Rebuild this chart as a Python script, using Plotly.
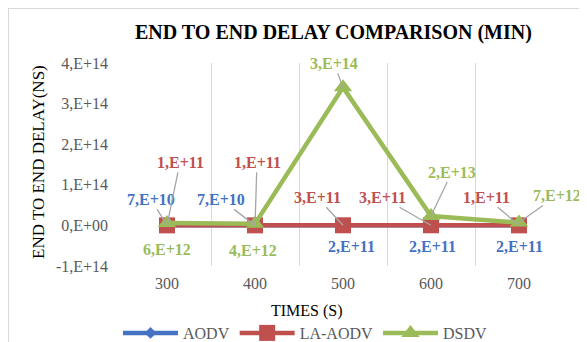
import math
import plotly.graph_objects as go

categories = ["300", "400", "500", "600", "700"]
aodv = [7e10, 7e10, 2e11, 2e11, 2e11]
la_aodv = [1e11, 1e11, 3e11, 3e11, 1e11]
dsdv = [6e12, 4e12, 3.4e14, 2.3e13, 7e12]
y_tickvals = [-1e14, 0, 1e14, 2e14, 3e14, 4e14]
y_ticktext = ["-1,E+14", "0,E+00", "1,E+14", "2,E+14", "3,E+14", "4,E+14"]

FONT = "Liberation Serif"
BLUE = "#4472C4"
RED = "#C0504D"
GREEN = "#9BBB59"
GRAY = "#595959"

# page body has an 8px margin: figure is drawn offset by (8, 8)
OFF = 8
W, H = 587 - OFF, 342 - OFF
PL, PR, PT, PB = 123, 563, 63, 266  # plot area in page pixels


def px(x):
    return (x - PL) / (PR - PL)


def py(y):
    return (PB - y) / (PB - PT)


def sci(v):
    e = int(math.floor(math.log10(abs(v))))
    m = int(round(v / 10 ** e))
    return f"{m},E+{e:02d}"


fig = go.Figure()
series = [
    ("AODV", aodv, BLUE, "diamond", 9),
    ("LA-AODV", la_aodv, RED, "square", 16),
    ("DSDV", dsdv, GREEN, "triangle-up", 16),
]
for name, vals, col, sym, ms in series:
    fig.add_trace(go.Scatter(
        x=categories, y=vals, name=name, mode="lines+markers",
        line=dict(color=col, width=4.5),
        marker=dict(symbol=sym, size=ms, color=col),
    ))

# label offsets (pixels) and whether leader line is drawn
offsets = {
    "AODV": [(-16, -26, True), (-34, -26, True), (8, 21, False), (1, 21, False), (0, 21, False)],
    "LA-AODV": [(13, -63, True), (2, -63, True), (-26, -28, True), (-49, -28, True), (-33, -28, True)],
    "DSDV": [(0, 27, False), (-2, 27, False), (-9, -24, True), (21, -44, True), (38, -27, True)],
}
annotations = []
for name, vals, col, sym, ms in series:
    for i, v in enumerate(vals):
        ax, ay, line = offsets[name][i]
        annotations.append(dict(
            x=i, y=v, xref="x", yref="y", text="<b>" + sci(v) + "</b>",
            showarrow=True, arrowhead=0, arrowwidth=1.3,
            arrowcolor="#A6A6A6" if line else "rgba(255,255,255,0)",
            ax=ax, ay=ay, standoff=0,
            font=dict(family=FONT, size=16, color=col),
        ))

# titles
annotations.append(dict(
    text="<b>END TO END DELAY COMPARISON (MIN)</b>", xref="paper", yref="paper",
    x=px(333), y=py(33), xanchor="center", yanchor="middle", showarrow=False,
    font=dict(family=FONT, size=20, color="#000000"),
))
annotations.append(dict(
    text="TIMES (S)", xref="paper", yref="paper",
    x=px(307), y=py(311), xanchor="center", yanchor="middle", showarrow=False,
    font=dict(family=FONT, size=16, color="#000000"),
))
annotations.append(dict(
    text="END TO END DELAY(NS)", xref="paper", yref="paper", textangle=-90,
    x=px(38), y=py(162), xanchor="center", yanchor="middle", showarrow=False,
    font=dict(family=FONT, size=17, color="#000000"),
))

fig.update_layout(
    width=W, height=H,
    margin=dict(l=PL - OFF, r=W - (PR - OFF), t=PT - OFF, b=H - (PB - OFF), autoexpand=False),
    paper_bgcolor="white", plot_bgcolor="white",
    showlegend=True,
    legend=dict(
        orientation="h", x=px(305), xanchor="center",
        y=py(333), yanchor="middle",
        font=dict(family=FONT, size=16, color=GRAY),
        itemwidth=55, tracegroupgap=0,
    ),
    annotations=annotations,
    shapes=[dict(
        type="rect", xref="paper", yref="paper",
        x0=px(OFF + 0.5), x1=px(640),
        y0=py(400), y1=py(OFF + 0.5),
        line=dict(color="#D9D9D9", width=1.2), layer="below",
    )],
)
fig.update_xaxes(
    type="category", range=[-0.5, 4.5], tickson="boundaries",
    showgrid=True, gridcolor="#D9D9D9", gridwidth=1.3,
    showline=False, zeroline=False, ticks="", automargin=False,
    tickfont=dict(family=FONT, size=16, color=GRAY),
    ticklabelstandoff=6,
)
fig.update_yaxes(
    range=[-1e14, 4e14], tickvals=y_tickvals, ticktext=y_ticktext,
    showgrid=False, zeroline=False, showline=False, ticks="", automargin=False,
    tickfont=dict(family=FONT, size=16, color=GRAY),
    ticklabelstandoff=14,
)
fig.write_html("out.html")
